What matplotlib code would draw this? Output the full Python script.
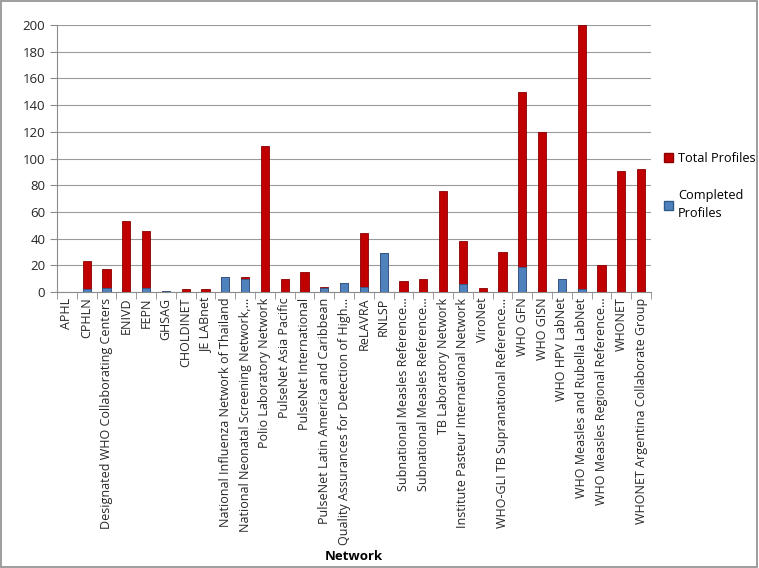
import matplotlib
matplotlib.use("Agg")
import matplotlib.pyplot as plt
from matplotlib.patches import Rectangle, Patch
import numpy as np

categories = [
    "APHL", "CPHLN", "Designated WHO Collaborating Centers", "ENIVD", "FEPN",
    "GHSAG", "CHOLDINET", "JE LABnet", "National Influenza Network of Thailand",
    "National Neonatal Screening Network,\u2026", "Polio Laboratory Network",
    "PulseNet Asia Pacific", "PulseNet International",
    "PulseNet Latin America and Caribbean",
    "Quality Assurances for Detection of High\u2026", "ReLAVRA", "RNLSP",
    "Subnational Measles Reference\u2026", "Subnational Measles Reference\u2026",
    "TB Laboratory Network", "Institute Pasteur International Network",
    "ViroNet", "WHO-GLI TB Supranational Reference\u2026", "WHO GFN", "WHO GISN",
    "WHO HPV LabNet", "WHO Measles and Rubella LabNet",
    "WHO Measles Regional Reference\u2026", "WHONET",
    "WHONET Argentina Collaborate Group",
]
total_profiles = [0, 23, 17, 53, 46, 1, 2, 2, 11, 11, 109, 10, 15, 4, 7, 44, 29,
                  8, 10, 76, 38, 3, 30, 150, 120, 10, 200, 20, 91, 92]
completed_profiles = [0, 2, 3, 0, 3, 1, 0, 0, 11, 10, 0, 0, 0, 3, 7, 4, 29,
                      0, 0, 0, 6, 0, 0, 19, 0, 10, 2, 0, 0, 0]

plt.rcParams['font.family'] = ['Open Sans', 'DejaVu Sans']

fig = plt.figure(figsize=(7.59, 5.68), dpi=100)
ax = fig.add_axes([57/759, 1-292/568, (651-57)/759, (292-25)/568])

x = np.arange(len(categories))
w = 0.42
red = "#C00000"
blue = "#4F81BD"
ax.bar(x, total_profiles, width=w, color=red, edgecolor="#8B0000", linewidth=0.6, zorder=3)
ax.bar(x, completed_profiles, width=w, color=blue, edgecolor="#2E5A8A", linewidth=0.6, zorder=4)

ax.set_xlim(-0.5, len(categories) - 0.5)
ax.set_ylim(0, 200)
ax.set_yticks(range(0, 201, 20))
ax.yaxis.grid(True, color="#9A9A9A", linewidth=0.8, zorder=0)
ax.set_axisbelow(True)
for s in ["top", "right"]:
    ax.spines[s].set_visible(False)
ax.spines["left"].set_color("#8C8C8C")
ax.spines["bottom"].set_color("#8C8C8C")

ax.set_xticks(x)
ax.set_xticklabels(categories, rotation=90, fontsize=9, color="#262626")
ax.tick_params(axis="x", length=0, pad=4)
ax.set_xticks(np.arange(-0.5, len(categories)), minor=True)
ax.tick_params(axis="x", which="minor", length=5, color="#8C8C8C", direction="out")
ax.tick_params(axis="y", labelsize=9.5, length=5, color="#8C8C8C", labelcolor="#262626")

ax.set_xlabel("Network", fontsize=9.5, fontweight="bold", labelpad=4)

handles = [Patch(facecolor=red, edgecolor="#8B0000", label="Total Profiles"),
           Patch(facecolor=blue, edgecolor="#2E5A8A", label="Completed\nProfiles")]
leg = fig.legend(handles=handles, loc="upper left", bbox_to_anchor=(659/759, 1-147/568),
                 frameon=False, fontsize=9.2, handlelength=0.7, handleheight=0.7,
                 handletextpad=0.4, labelspacing=1.9, borderaxespad=0)
for t in leg.get_texts():
    t.set_linespacing(1.45)

fig.patches.append(Rectangle((0.001, 0.001), 0.997, 0.997, transform=fig.transFigure,
                             fill=False, edgecolor="#8C8C8C", linewidth=1.2))

fig.savefig("out.png", dpi=100)
